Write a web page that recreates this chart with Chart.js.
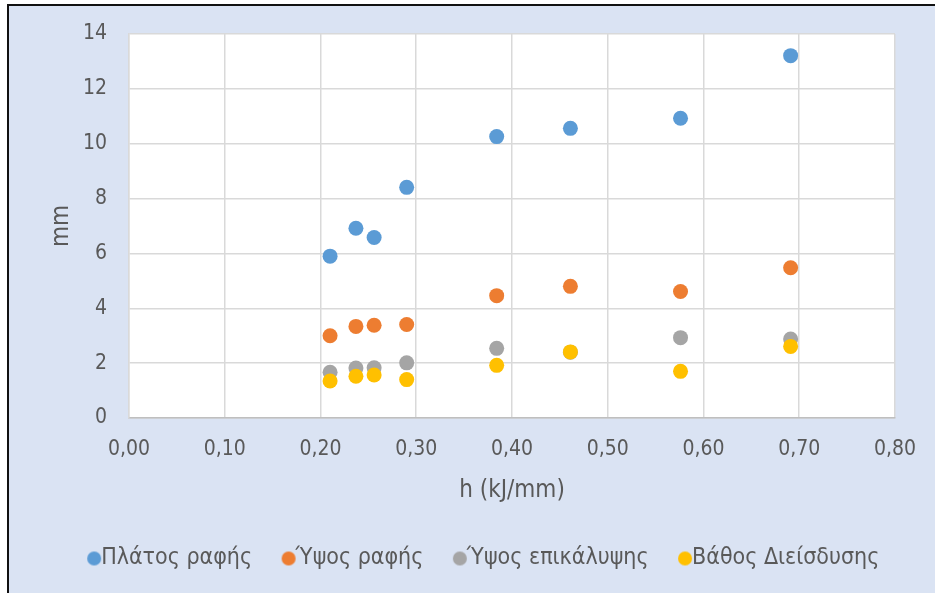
<!DOCTYPE html>
<html>
<head>
<meta charset="utf-8">
<script src="https://cdn.jsdelivr.net/npm/chart.js@4.4.1/dist/chart.umd.min.js"></script>
<style>
  body { margin: 0; background: #ffffff; overflow: hidden; }
  .frame {
    position: absolute; left: 7px; top: 4px; width: 960px; height: 600px;
    border-left: 2px solid #111; border-top: 2px solid #111;
    background: #dae3f3;
  }
  .frame canvas { position: absolute; left: 0; top: 0; }
</style>
</head>
<body>
<div class="frame"><canvas id="myChart" width="950" height="587"></canvas></div>
<script>
// h (kJ/mm) per weld
const heatInput = [0.210, 0.237, 0.256, 0.290, 0.384, 0.461, 0.576, 0.691];

const seriesNames = ['Πλάτος ραφής', 'Ύψος ραφής', 'Ύψος επικάλυψης', 'Βάθος Διείσδυσης'];
const platosRafis = [5.90, 6.92, 6.58, 8.41, 10.26, 10.56, 10.93, 13.21];
const ypsosRafis = [3.00, 3.34, 3.38, 3.41, 4.46, 4.80, 4.61, 5.48];
const ypsosEpikalypsis = [1.67, 1.82, 1.83, 2.01, 2.54, 2.40, 2.93, 2.88];
const vathosDieisdysis = [1.35, 1.52, 1.57, 1.40, 1.92, 2.41, 1.70, 2.61];
const seriesColors = ['#5b9bd5', '#ed7d31', '#a5a5a5', '#ffc000'];

const xTicks = [0, 0.1, 0.2, 0.3, 0.4, 0.5, 0.6, 0.7, 0.8];
const yTicks = [0, 2, 4, 6, 8, 10, 12, 14];

const fontFamily = "'Liberation Sans Narrow', 'DejaVu Sans Condensed', 'Liberation Sans', sans-serif";
const textColor = '#595959';
const gridColor = '#d9d9d9';

function toPoints(values) {
  return values.map((v, i) => ({ x: heatInput[i], y: v }));
}

const allSeries = [platosRafis, ypsosRafis, ypsosEpikalypsis, vathosDieisdysis];

// legend dot, drawn a bit right of centre so the text sits close to it
function legendDot(color) {
  const c = document.createElement('canvas');
  c.width = 40;
  c.height = 16;
  const g = c.getContext('2d');
  g.fillStyle = color;
  g.beginPath();
  g.arc(25, 8, 7, 0, Math.PI * 2);
  g.fill();
  return c;
}
const legendDots = seriesColors.map(legendDot);

const data = {
  datasets: allSeries.map((values, i) => ({
    label: seriesNames[i],
    data: toPoints(values),
    backgroundColor: seriesColors[i],
    borderColor: seriesColors[i],
    borderWidth: 0,
    pointRadius: 7.5,
    pointHoverRadius: 7.5,
    // later series sit on top, like in excel
    order: allSeries.length - 1 - i
  }))
};

// white plot area on the blue chart background
const plotBackground = {
  id: 'plotBackground',
  beforeDraw(chart) {
    const { ctx, chartArea } = chart;
    ctx.save();
    ctx.fillStyle = '#ffffff';
    ctx.fillRect(chartArea.left, chartArea.top, chartArea.width, chartArea.height);
    ctx.restore();
  }
};

const config = {
  type: 'scatter',
  data: data,
  plugins: [plotBackground],
  options: {
    responsive: false,
    animation: false,
    layout: {
      padding: { left: 0, top: 28, right: 0, bottom: 13 }
    },
    scales: {
      x: {
        type: 'linear',
        min: 0,
        max: 0.8,
        afterBuildTicks: (scale) => { scale.ticks = xTicks.map(v => ({ value: v })); },
        afterFit: (scale) => { scale.height = 98; },
        grid: { color: gridColor, lineWidth: 1.5, drawTicks: false },
        border: { color: '#bfbfbf', width: 1.5 },
        ticks: {
          color: textColor,
          padding: 19,
          font: { family: fontFamily, size: 21 },
          callback: (v) => v.toFixed(2).replace('.', ',')
        },
        title: {
          display: true,
          text: 'h (kJ/mm)',
          color: textColor,
          font: { family: fontFamily, size: 24 },
          padding: { top: 0, bottom: 11 }
        }
      },
      y: {
        min: 0,
        max: 14,
        afterBuildTicks: (scale) => { scale.ticks = yTicks.map(v => ({ value: v })); },
        afterFit: (scale) => {
          scale.width = 120;
          scale.paddingTop = 0;
          scale.paddingBottom = 0;
        },
        grid: { color: gridColor, lineWidth: 1.5, drawTicks: false },
        border: { color: gridColor, width: 1.5 },
        ticks: {
          color: textColor,
          padding: 22,
          font: { family: fontFamily, size: 21 }
        },
        title: {
          display: true,
          text: 'mm',
          color: textColor,
          font: { family: fontFamily, size: 24 },
          padding: { top: 38, bottom: 0 }
        }
      },
      // empty right-hand space between plot and frame edge
      yRight: {
        position: 'right',
        display: true,
        afterFit: (scale) => {
          scale.width = 64;
          scale.paddingTop = 0;
          scale.paddingBottom = 0;
        },
        grid: { display: false },
        border: { display: false },
        ticks: { display: false }
      }
    },
    plugins: {
      legend: {
        position: 'bottom',
        labels: {
          usePointStyle: true,
          boxWidth: 1,
          boxHeight: 10,
          padding: 31,
          color: textColor,
          font: { family: fontFamily, size: 23 },
          sort: (a, b) => a.datasetIndex - b.datasetIndex,
          generateLabels: (chart) => {
            const items = Chart.defaults.plugins.legend.labels.generateLabels(chart);
            items.forEach(item => { item.pointStyle = legendDots[item.datasetIndex]; });
            return items;
          }
        }
      },
      tooltip: { enabled: false }
    }
  }
};

let myChart = new Chart(document.getElementById('myChart'), config);
</script>
</body>
</html>
